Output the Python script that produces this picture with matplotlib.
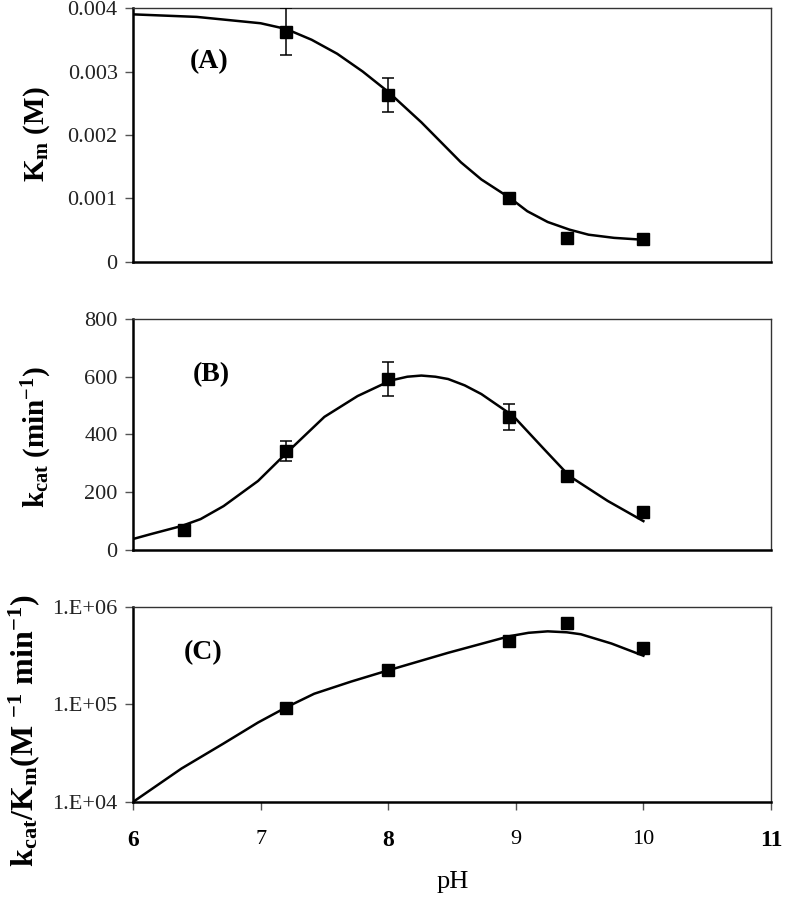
import numpy as np
import matplotlib
matplotlib.use('Agg')
import matplotlib.pyplot as plt
from matplotlib.ticker import FixedLocator, FixedFormatter, NullLocator

plt.rcParams['font.family'] = ['Liberation Serif', 'DejaVu Serif']
plt.rcParams['mathtext.fontset'] = 'custom'
plt.rcParams['mathtext.rm'] = 'Liberation Serif'
plt.rcParams['mathtext.bf'] = 'Liberation Serif:bold'
plt.rcParams['mathtext.it'] = 'Liberation Serif:italic'

# ── datos medidos ────────────────────────────────────────────────────────────
ph_pts = [7.2, 8.0, 8.95, 9.4, 10.0]
km_pts = [0.00363, 0.00263, 0.00100, 0.00038, 0.00036]
km_err = [0.00037, 0.00026, 0.00005, 0.0, 0.0]

ph_kcat = [6.4, 7.2, 8.0, 8.95, 9.4, 10.0]
kcat_pts = [69, 343, 592, 459, 256, 132]
kcat_err = [0, 35, 60, 45, 15, 0]

ph_eff = [7.2, 8.0, 8.95, 9.4, 10.0]
eff_pts = [9.3e4, 2.28e5, 4.5e5, 6.8e5, 3.75e5]

# ── curvas ajustadas ─────────────────────────────────────────────────────────
ph_fit_a = [6.0, 6.5, 7.0, 7.2, 7.4, 7.6, 7.8, 8.0, 8.26, 8.57, 8.73, 8.96,
            9.09, 9.25, 9.42, 9.57, 9.77, 10.0]
km_fit = [0.00390, 0.00386, 0.00376, 0.00367, 0.00350, 0.00328, 0.00300,
          0.00268, 0.00220, 0.00157, 0.00130, 0.00100, 0.00080, 0.00063,
          0.00051, 0.00043, 0.00038, 0.00035]

ph_fit_b = [6.0, 6.14, 6.38, 6.53, 6.71, 6.98, 7.21, 7.5, 7.76, 8.02, 8.15,
            8.26, 8.37, 8.47, 8.6, 8.73, 8.98, 9.22, 9.42, 9.72, 10.0]
kcat_fit = [38, 55, 83, 107, 152, 239, 339, 461, 533, 587, 600, 604, 600,
            592, 570, 540, 464, 350, 256, 170, 100]

ph_fit_c = [6.0, 6.38, 6.71, 6.98, 7.2, 7.42, 7.71, 8.0, 8.47, 8.95, 9.1,
            9.25, 9.4, 9.51, 9.75, 10.0]
log_eff_fit = [4.0, 4.343, 4.60, 4.815, 4.97, 5.11, 5.235, 5.35, 5.53, 5.70,
               5.735, 5.75, 5.74, 5.72, 5.625, 5.50]

y_ticks_a = [0, 0.001, 0.002, 0.003, 0.004]
y_labels_a = ['0', '0.001', '0.002', '0.003', '0.004']
y_ticks_b = [0, 200, 400, 600, 800]
y_ticks_c = [1e4, 1e5, 1e6]
y_labels_c = ['1.E+04', '1.E+05', '1.E+06']
x_ticks = [6, 7, 8, 9, 10, 11]
x_tick_bold = [True, False, True, False, False, True]


def _style(ax):
    for side in ('left', 'bottom'):
        ax.spines[side].set_linewidth(1.8)
        ax.spines[side].set_color('black')
    for side in ('top', 'right'):
        ax.spines[side].set_linewidth(1.0)
        ax.spines[side].set_color('#333333')
    ax.set_xlim(6, 11)
    ax.tick_params(axis='y', direction='out', length=6, width=1, pad=5,
                   color='#555555', labelsize=16, labelcolor='#222222')
    ax.yaxis.set_minor_locator(NullLocator())


fig = plt.figure(figsize=(7.86, 9), dpi=100)
ax_a = fig.add_axes([0.1692, 0.7089, 0.8117, 0.2822])
ax_b = fig.add_axes([0.1692, 0.3889, 0.8117, 0.2567])
ax_c = fig.add_axes([0.1692, 0.1089, 0.8117, 0.2167])

mk = dict(marker='s', color='black', ms=8, ls='none', zorder=3)
cap = dict(ecolor='black', elinewidth=1.1, capsize=4, capthick=1.1)

# (A) Km
ax_a.plot(ph_fit_a, km_fit, color='black', lw=1.8)
ax_a.errorbar(ph_pts, km_pts, yerr=km_err, **mk, **cap)
_style(ax_a)
ax_a.set_ylim(0, 0.004)
ax_a.set_yticks(y_ticks_a)
ax_a.set_yticklabels(y_labels_a)
ax_a.set_xticks([])
ax_a.text(0.119, 0.787, '(A)', transform=ax_a.transAxes, ha='center',
          va='center', fontsize=20, fontweight='bold')

# (B) kcat
ax_b.plot(ph_fit_b, kcat_fit, color='black', lw=1.8)
ax_b.errorbar(ph_kcat, kcat_pts, yerr=kcat_err, **mk, **cap)
_style(ax_b)
ax_b.set_ylim(0, 800)
ax_b.set_yticks(y_ticks_b)
ax_b.set_xticks([])
ax_b.text(0.122, 0.758, '(B)', transform=ax_b.transAxes, ha='center',
          va='center', fontsize=20, fontweight='bold')

# (C) kcat/Km
ax_c.plot(ph_fit_c, 10 ** np.array(log_eff_fit), color='black', lw=1.8)
ax_c.plot(ph_eff, eff_pts, **mk)
_style(ax_c)
ax_c.set_yscale('log')
ax_c.set_ylim(1e4, 1e6)
ax_c.yaxis.set_major_locator(FixedLocator(y_ticks_c))
ax_c.yaxis.set_major_formatter(FixedFormatter(y_labels_c))
ax_c.yaxis.set_minor_locator(NullLocator())
ax_c.set_xticks(x_ticks)
ax_c.set_xticklabels([str(v) for v in x_ticks])
ax_c.tick_params(axis='x', direction='out', length=6, width=1,
                 color='#555555', labelsize=16, pad=14)
for lbl, bold in zip(ax_c.get_xticklabels(), x_tick_bold):
    lbl.set_fontweight('bold' if bold else 'normal')
    lbl.set_fontsize(17 if bold else 16)
ax_c.text(0.11, 0.764, '(C)', transform=ax_c.transAxes, ha='center',
          va='center', fontsize=20, fontweight='bold')

# etiquetas de ejes
fig.text(37 / 786, 1 - 134 / 900, r'K$_{\mathbf{m}}$ (M)', rotation=90,
         ha='center', va='center', fontsize=21, fontweight='bold')
fig.text(37 / 786, 1 - 437 / 900, r'k$_{\mathbf{cat}}$ (min$^{\mathbf{-1}}$)',
         rotation=90, ha='center', va='center', fontsize=21, fontweight='bold')
fig.text(24 / 786, 1 - 731 / 900,
         r'k$_{\mathbf{cat}}$/K$_{\mathbf{m}}$(M $^{\mathbf{-1}}$ min$^{\mathbf{-1}}$)',
         rotation=90, ha='center', va='center', fontsize=23, fontweight='bold')
fig.text(453 / 786, 1 - 882 / 900, 'pH', ha='center', va='center',
         fontsize=19)

fig.savefig('out.png', dpi=100)
